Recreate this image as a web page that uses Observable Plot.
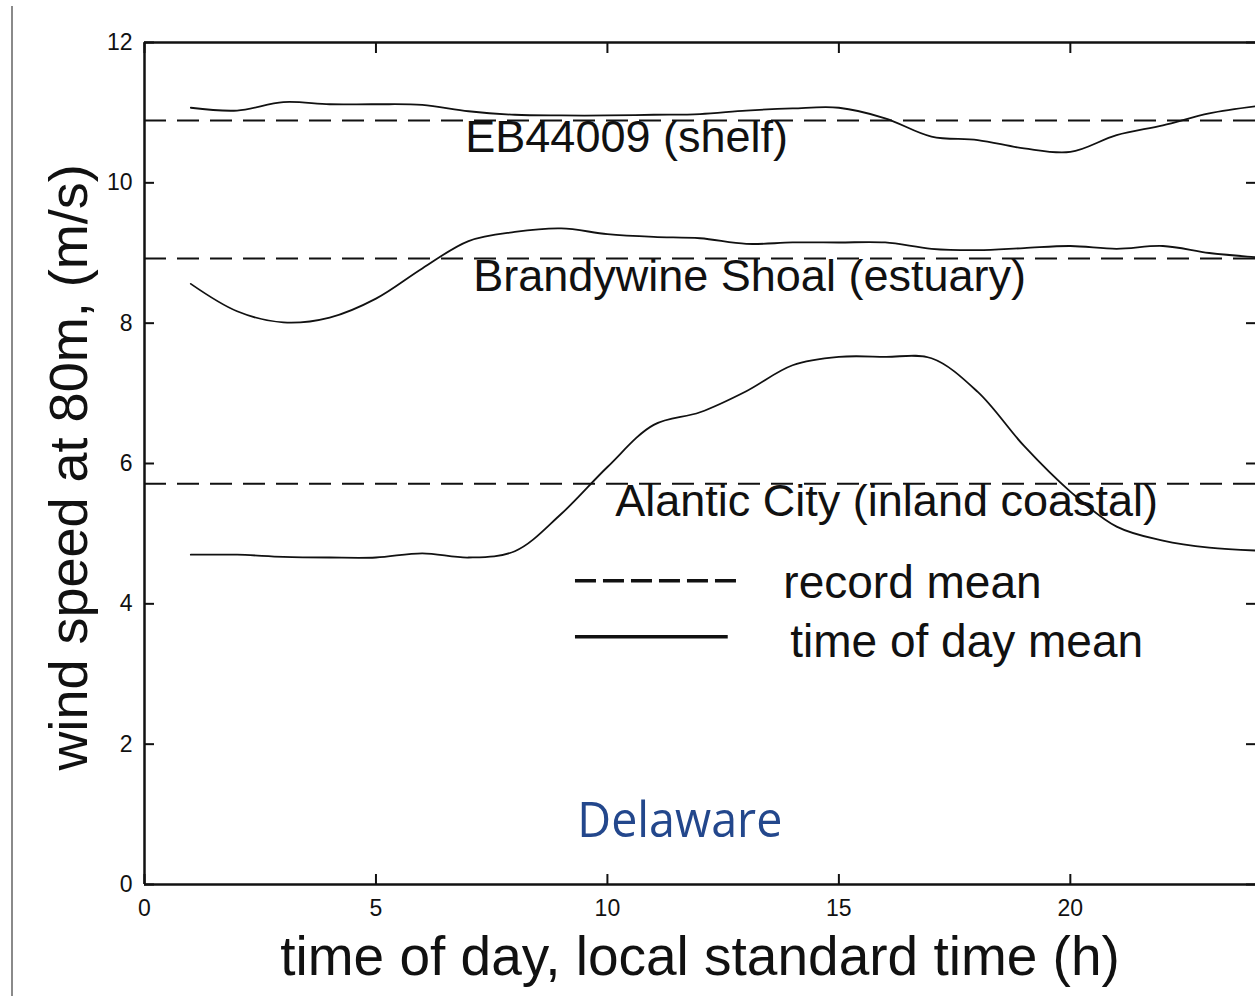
<!DOCTYPE html>
<html><head><meta charset="utf-8">
<script src="https://cdn.jsdelivr.net/npm/d3@7"></script>
<script src="https://cdn.jsdelivr.net/npm/@observablehq/plot@0.6"></script>
<style>
html,body{margin:0;padding:0;background:#fff;}
#wrap{position:relative;width:1255px;height:996px;overflow:hidden;background:#fff;}
#edge{position:absolute;left:11px;top:6px;width:2px;height:990px;background:#8a8a8a;}
</style></head><body>
<div id="wrap"><div id="chart"></div><div id="edge"></div></div>
<script>
// ---- data ----
const hours = [1,2,3,4,5,6,7,8,9,10,11,12,13,14,15,16,17,18,19,20,21,22,23,24];
const eb44009 = [11.07,11.03,11.15,11.12,11.12,11.11,11.02,10.97,10.96,10.96,10.97,10.98,11.03,11.06,11.07,10.92,10.66,10.61,10.49,10.44,10.68,10.82,10.99,11.09];
const brandywine = [8.56,8.17,8.01,8.08,8.35,8.78,9.17,9.30,9.35,9.27,9.23,9.21,9.13,9.15,9.15,9.15,9.06,9.04,9.07,9.10,9.06,9.10,9.00,8.94];
const atlanticCity = [4.70,4.70,4.67,4.66,4.66,4.72,4.66,4.75,5.28,5.95,6.55,6.73,7.03,7.40,7.52,7.52,7.50,7.02,6.25,5.60,5.10,4.90,4.80,4.76];
const recordMeans = [10.89, 8.92, 5.71];
const siteLabels = ["EB44009 (shelf)", "Brandywine Shoal (estuary)", "Alantic City (inland coastal)"];
const legendLabels = ["record mean", "time of day mean"];
const xTicks = [0, 5, 10, 15, 20];
const yTicks = [0, 2, 4, 6, 8, 10, 12];
const xLabel = "time of day, local standard time (h)";
const yLabel = "wind speed at 80m, (m/s)";
const regionLabel = "Delaware";

const rows = hours.flatMap((h, i) => [
  {site: siteLabels[0], h, v: eb44009[i]},
  {site: siteLabels[1], h, v: brandywine[i]},
  {site: siteLabels[2], h, v: atlanticCity[i]}
]);

const ink = "#111";
const font = "'Liberation Sans', Arial, Helvetica, sans-serif";
const fmt = d => String(d);

const chart = Plot.plot({
  width: 1255,
  height: 996,
  marginLeft: 144,
  marginRight: 0,
  marginTop: 42,
  marginBottom: 112,
  style: {fontFamily: font, fontSize: "23px", background: "white", color: ink},
  x: {domain: [0, 24]},
  y: {domain: [0, 12]},
  marks: [
    // tick labels
    Plot.axisY(yTicks, {anchor: "left", tickSize: 0, tickPadding: 12, label: null, fontSize: 23, tickFormat: fmt}),
    Plot.axisX(xTicks, {anchor: "bottom", tickSize: 0, tickPadding: 15, label: null, fontSize: 23, tickFormat: fmt}),
    // inward ticks
    Plot.axisY(yTicks, {anchor: "left", tickSize: 10, dx: 10, tickFormat: () => "", label: null, strokeWidth: 2, stroke: ink}),
    Plot.axisY(yTicks, {anchor: "right", tickSize: 10, dx: -10, tickFormat: () => "", label: null, strokeWidth: 2, stroke: ink}),
    Plot.axisX(xTicks, {anchor: "bottom", tickSize: 10, dy: -10, tickFormat: () => "", label: null, strokeWidth: 2, stroke: ink}),
    Plot.axisX(xTicks, {anchor: "top", tickSize: 10, dy: 10, tickFormat: () => "", label: null, strokeWidth: 2, stroke: ink}),
    // frame lines
    Plot.ruleX([0], {y1: 0, y2: 12, stroke: ink, strokeWidth: 2.5}),
    Plot.ruleY([0, 12], {x1: 0, x2: 24, stroke: ink, strokeWidth: 2.5}),
    // record means
    Plot.ruleY(recordMeans, {x1: 0, x2: 24, stroke: ink, strokeWidth: 2, strokeDasharray: "22,11"}),
    // time of day means
    Plot.line(rows, {x: "h", y: "v", z: "site", stroke: ink, strokeWidth: 1.8, curve: "catmull-rom"}),
    // site labels
    Plot.text([siteLabels[0]], {x: 6.93, y: 10.64, text: d => d, textAnchor: "start", fontSize: 45, fill: ink}),
    Plot.text([siteLabels[1]], {x: 7.1, y: 8.66, text: d => d, textAnchor: "start", fontSize: 45, fill: ink}),
    Plot.text([siteLabels[2]], {x: 10.17, y: 5.46, text: d => d, textAnchor: "start", fontSize: 45, fill: ink}),
    // legend
    Plot.ruleY([4.33], {x1: 9.31, x2: 12.81, stroke: ink, strokeWidth: 3.5, strokeDasharray: "21,7"}),
    Plot.ruleY([3.53], {x1: 9.31, x2: 12.61, stroke: ink, strokeWidth: 3.5}),
    Plot.text([legendLabels[0]], {x: 13.8, y: 4.30, text: d => d, textAnchor: "start", fontSize: 46, fill: ink}),
    Plot.text([legendLabels[1]], {x: 13.95, y: 3.45, text: d => d, textAnchor: "start", fontSize: 46, fill: ink}),
    // region label
    Plot.text([regionLabel], {x: 9.35, y: 0.91, text: d => d, textAnchor: "start", fontSize: 50, fill: "#23478c", fontFamily: "'Open Sans', 'Noto Sans', sans-serif"}),
    // axis titles
    Plot.text([xLabel], {frameAnchor: "bottom", dy: 90, text: d => d, textAnchor: "middle", fontSize: 55, fill: ink}),
    Plot.text([yLabel], {frameAnchor: "left", rotate: -90, dx: -75, dy: 4, text: d => d, textAnchor: "middle", fontSize: 54, fill: ink})
  ]
});

chart.querySelectorAll("text").forEach(t => {
  if (t.textContent === regionLabel) {
    t.setAttribute("textLength", "205");
    t.setAttribute("lengthAdjust", "spacingAndGlyphs");
  }
});

document.getElementById("chart").appendChild(chart);
</script>
</body></html>
